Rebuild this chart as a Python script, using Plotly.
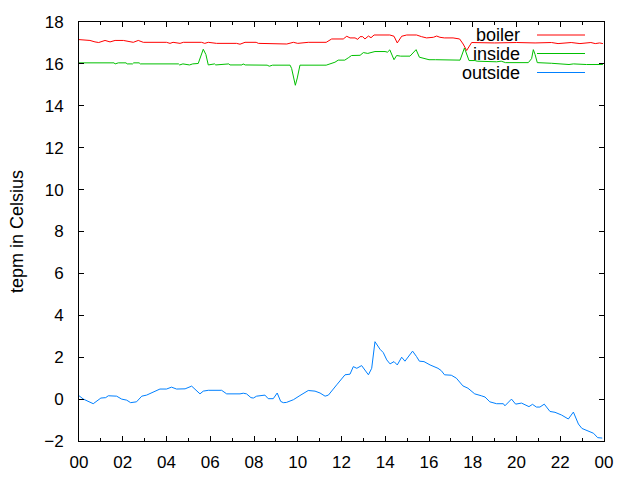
import plotly.graph_objects as go

# ---------------- data ----------------
outside_hours = [0.0, 0.2, 0.65, 1.0, 1.22, 1.34, 1.72, 1.95, 2.18, 2.36,
                 2.63, 2.87, 3.09, 3.4, 3.7, 4.0, 4.23, 4.46, 4.85, 5.15,
                 5.53, 5.68, 5.91, 6.52, 6.75, 7.36, 7.51, 7.66, 7.86, 7.97,
                 8.12, 8.5, 8.65, 8.88, 9.06, 9.22, 9.34, 9.48, 9.8, 10.1,
                 10.48, 10.79, 11.02, 11.25, 11.4, 11.78, 12.16, 12.39, 12.54, 12.7,
                 12.92, 13.23, 13.38, 13.53, 13.76, 13.91, 14.07, 14.22, 14.4, 14.55,
                 14.75, 14.9, 15.25, 15.43, 15.56, 15.77, 16.05, 16.41, 16.56, 16.71,
                 17.02, 17.25, 17.55, 17.78, 18.09, 18.39, 18.56, 18.78, 19.09, 19.4,
                 19.47, 19.77, 19.96, 20.23, 20.57, 20.73, 20.91, 21.07, 21.27, 21.53,
                 21.76, 22.06, 22.37, 22.6, 22.83, 22.99, 23.29, 23.52, 23.71, 23.92]
outside_temp = [0.16, 0.0, -0.22, 0.05, 0.07, 0.16, 0.14, 0.0, -0.05, -0.17,
                -0.13, 0.14, 0.19, 0.35, 0.48, 0.48, 0.57, 0.48, 0.49, 0.62,
                0.25, 0.38, 0.42, 0.42, 0.25, 0.25, 0.28, 0.25, 0.07, 0.05,
                0.14, 0.19, 0.02, 0.02, 0.29, -0.11, -0.17, -0.16, -0.03, 0.17,
                0.41, 0.38, 0.29, 0.14, 0.19, 0.68, 1.16, 1.19, 1.55, 1.47,
                1.6, 1.16, 1.47, 2.74, 2.38, 2.22, 1.87, 1.68, 1.79, 1.63,
                2.0, 1.81, 2.29, 2.03, 1.81, 1.79, 1.63, 1.47, 1.36, 1.16,
                1.14, 1.0, 0.63, 0.52, 0.25, 0.16, 0.1, -0.13, -0.22, -0.22,
                -0.32, 0.0, -0.24, -0.19, -0.36, -0.25, -0.38, -0.38, -0.24, -0.59,
                -0.63, -0.76, -0.95, -0.62, -1.19, -1.4, -1.54, -1.63, -1.84, -1.86]

boiler_hours = [0.0, 0.5, 0.73, 0.9, 1.19, 1.42, 1.65, 2.03, 2.48, 2.71,
                2.94, 4.0, 4.16, 4.3, 4.62, 4.77, 5.6, 5.75, 5.91, 6.29,
                7.2, 7.36, 7.59, 8.1, 8.2, 8.5, 8.65, 8.8, 9.0, 9.15,
                9.5, 9.8, 10.0, 10.48, 11.3, 11.55, 12.08, 12.24, 12.39, 12.62,
                12.74, 12.85, 12.97, 13.07, 13.23, 13.35, 13.49, 14.21, 14.4, 14.55,
                14.75, 14.98, 15.43, 15.66, 15.89, 16.2, 16.35, 16.5, 16.7, 17.1,
                17.4, 17.56, 17.72, 17.95, 19.0, 20.0, 20.85, 21.6, 21.9, 22.5,
                22.9, 23.4, 23.6, 23.8, 23.95]
boiler_temp = [17.16, 17.12, 17.05, 17.02, 17.12, 17.05, 17.12, 17.12, 17.03, 17.12,
               17.03, 17.03, 16.98, 17.03, 16.98, 17.03, 17.03, 16.98, 17.03, 16.98,
               16.98, 16.94, 17.03, 17.03, 16.98, 16.98, 16.95, 16.98, 16.95, 16.98,
               16.95, 17.03, 16.98, 17.03, 17.03, 17.19, 17.19, 17.32, 17.24, 17.24,
               17.17, 17.3, 17.3, 17.19, 17.33, 17.25, 17.38, 17.38, 17.32, 17.0,
               17.32, 17.38, 17.38, 17.3, 17.24, 17.27, 17.33, 17.27, 17.24, 17.24,
               17.19, 16.95, 16.64, 17.02, 17.0, 17.02, 17.0, 17.02, 16.97, 17.02,
               16.97, 17.02, 16.97, 17.0, 16.97]

inside_hours = [0.0, 1.6, 1.65, 1.8, 2.15, 2.2, 2.45, 2.5, 2.75, 2.8,
                4.55, 4.6, 4.75, 5.05, 5.2, 5.45, 5.68, 5.8, 5.91, 6.2,
                6.25, 6.6, 6.85, 6.9, 7.45, 7.5, 7.6, 8.6, 8.7, 8.85,
                9.65, 9.72, 9.8, 9.89, 9.98, 10.07, 10.1, 11.3, 11.5, 11.7,
                11.85, 12.15, 12.31, 12.46, 12.85, 13.0, 13.2, 13.53, 13.99, 14.1,
                14.21, 14.4, 14.52, 14.7, 15.13, 15.28, 15.41, 15.56, 15.82, 16.0,
                16.3, 17.42, 17.62, 17.72, 17.83, 18.1, 18.2, 19.09, 19.3, 19.5,
                20.54, 20.69, 20.77, 20.85, 20.95, 21.6, 21.9, 22.4, 22.6, 23.2,
                23.95]
inside_temp = [16.05, 16.05, 16.0, 16.05, 16.05, 16.0, 16.0, 16.05, 16.05, 16.0,
               16.0, 15.95, 16.0, 15.95, 16.0, 16.02, 16.7, 16.45, 15.95, 16.0,
               15.95, 16.0, 16.0, 15.95, 15.95, 16.0, 15.95, 15.94, 15.89, 15.94,
               15.94, 15.78, 15.33, 14.98, 15.33, 15.89, 15.94, 15.94, 16.0, 16.08,
               16.18, 16.18, 16.29, 16.4, 16.41, 16.54, 16.5, 16.59, 16.59, 16.56,
               16.67, 16.2, 16.4, 16.37, 16.37, 16.54, 16.68, 16.32, 16.25, 16.2,
               16.2, 16.18, 16.76, 16.45, 16.16, 16.16, 16.13, 16.1, 16.13, 16.06,
               16.06, 16.25, 16.68, 16.45, 16.06, 16.03, 16.0, 15.97, 16.0, 15.97,
               15.97]

series_names = ["boiler", "inside", "outside"]
series_colors = ["#ff0000", "#00c000", "#0080ff"]

x_tick_vals = [0, 2, 4, 6, 8, 10, 12, 14, 16, 18, 20, 22, 24]
x_tick_text = ["00", "02", "04", "06", "08", "10", "12", "14", "16", "18", "20", "22", "00"]
y_label = "tepm in Celsius"

# ---------------- figure ----------------
FONT = "Liberation Sans"
TICKSIZE = 17
TEXTSIZE = 18
fig = go.Figure()
for name, xs, ys, col in zip(series_names,
                             [boiler_hours, inside_hours, outside_hours],
                             [boiler_temp, inside_temp, outside_temp],
                             series_colors):
    fig.add_trace(go.Scatter(x=xs, y=ys, mode="lines", name=name,
                             line=dict(color=col, width=1), showlegend=False))

# The page body has an 8px margin, so the figure is drawn 8px in from the
# window's top-left corner; size it so it still ends at 640x480.
OFF = 8
W, H = 640 - OFF, 480 - OFF
L, R, T, B = 79 - OFF, 36, 22 - OFF, 39
pw, ph = W - L - R, H - T - B

def px(x):  # window pixel -> paper fraction
    return (x - OFF - L) / pw

def py(y):
    return 1 - (y - OFF - T) / ph

# gnuplot-style legend: text right-aligned, line sample on the right
leg_rows = [35, 53.5, 72.5]
for name, col, yy in zip(series_names, series_colors, leg_rows):
    fig.add_annotation(x=px(522), y=py(yy), xref="paper", yref="paper",
                       text=name, showarrow=False, xanchor="right", yanchor="middle",
                       font=dict(family=FONT, size=TEXTSIZE, color="#000000"))
    fig.add_shape(type="line", xref="paper", yref="paper",
                  x0=px(537), x1=px(585), y0=py(yy), y1=py(yy),
                  line=dict(color=col, width=1))

fig.add_annotation(x=px(17), y=py(232), xref="paper", yref="paper", text=y_label,
                   textangle=-90, showarrow=False, xanchor="center", yanchor="middle",
                   font=dict(family=FONT, size=TEXTSIZE, color="#000000"))

axis_common = dict(showgrid=False, zeroline=False, showline=True, linecolor="black",
                   linewidth=1, mirror="allticks", ticks="inside", tickcolor="black",
                   automargin=False,
                   tickfont=dict(family=FONT, size=TICKSIZE, color="#000000"))

fig.update_xaxes(range=[0, 24], tickvals=x_tick_vals, ticktext=x_tick_text,
                 ticklen=5, ticklabelstandoff=6,
                 minor=dict(dtick=1, tick0=0, ticks="inside", ticklen=3, tickcolor="black"),
                 **axis_common)
fig.update_yaxes(range=[-2, 18], dtick=2, tick0=0, ticklen=5, ticklabelstandoff=11,
                 **axis_common)

fig.update_layout(width=W, height=H, margin=dict(l=L, r=R, t=T, b=B, autoexpand=False),
                  plot_bgcolor="white", paper_bgcolor="white",
                  font=dict(family=FONT, size=TEXTSIZE, color="#000000"))

fig.write_html("out.html")
